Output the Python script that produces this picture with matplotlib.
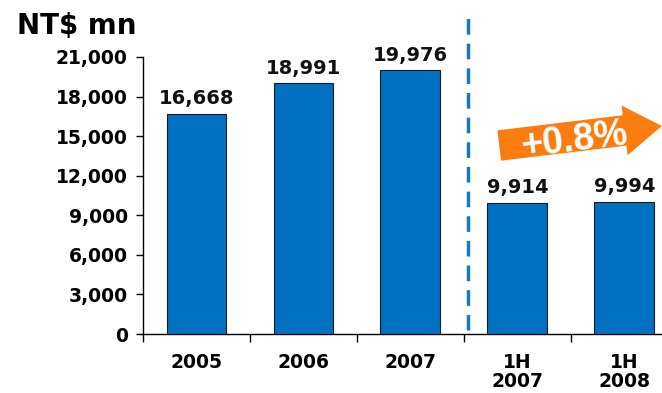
import matplotlib
matplotlib.use("Agg")
from matplotlib import pyplot as plt
import numpy as np

# revenue, NT$ million
periods = ["2005", "2006", "2007", "1H\n2007", "1H\n2008"]
revenue = [16668, 18991, 19976, 9914, 9994]
yticks = [0, 3000, 6000, 9000, 12000, 15000, 18000, 21000]
growth_label = "+0.8%"

bar_color = "#0070C0"
arrow_color = "#FB7D10"

fig = plt.figure(figsize=(6.62, 3.93), dpi=100)
ax = fig.add_axes([0.216, 0.150, 0.808, 0.705])

x = np.arange(len(periods))
ax.bar(x, revenue, width=0.56, color=bar_color, edgecolor="#1a1a1a", linewidth=0.8, zorder=3)

for xi, v in zip(x, revenue):
    ax.text(xi, v + 450, f"{v:,}", ha="center", va="bottom",
            fontsize=14, fontweight="bold", color="#111111")

ax.set_ylim(0, 21000)
ax.set_xlim(-0.5, len(periods) - 0.5)
ax.set_yticks(yticks)
ax.set_yticklabels([f"{t:,}" for t in yticks])
ax.set_xticks(x)
ax.set_xticklabels(periods)
ax.set_xticks(np.arange(-0.5, len(periods)), minor=True)

ax.tick_params(axis="y", direction="out", length=5, width=1, labelsize=13.5, pad=6)
ax.tick_params(axis="x", which="major", length=0, labelsize=13.5, pad=14)
ax.tick_params(axis="x", which="minor", direction="out", length=6, width=1)
for lab in ax.get_xticklabels() + ax.get_yticklabels():
    lab.set_fontweight("bold")
    lab.set_linespacing(1.0)
for lab in ax.get_xticklabels():
    lab.set_va("top")

for s in ["top", "right"]:
    ax.spines[s].set_visible(False)
ax.spines["left"].set_linewidth(1)
ax.spines["bottom"].set_linewidth(1)

# divider between full-year and half-year figures
ax.plot([2.54, 2.54], [300, 24400], color="#1A78C2", linewidth=2.5,
        linestyle=(0, (4.5, 2.6)), clip_on=False, zorder=4)

# growth arrow
ax.annotate("", xy=(4.35, 15770), xytext=(2.83, 14290),
            arrowprops=dict(arrowstyle="simple,head_length=27,head_width=36,tail_width=22",
                            mutation_scale=1, fc=arrow_color, ec="none",
                            shrinkA=0, shrinkB=0), zorder=5)
ax.text(3.53, 14700, growth_label, rotation=7, ha="center", va="center",
        fontsize=27, fontweight="bold", color="white", zorder=6,
        family="Liberation Sans", rotation_mode="anchor")

fig.text(0.025, 0.935, "NT$ mn", fontsize=20, fontweight="bold", ha="left", va="center")

fig.savefig("out.png", dpi=100)
